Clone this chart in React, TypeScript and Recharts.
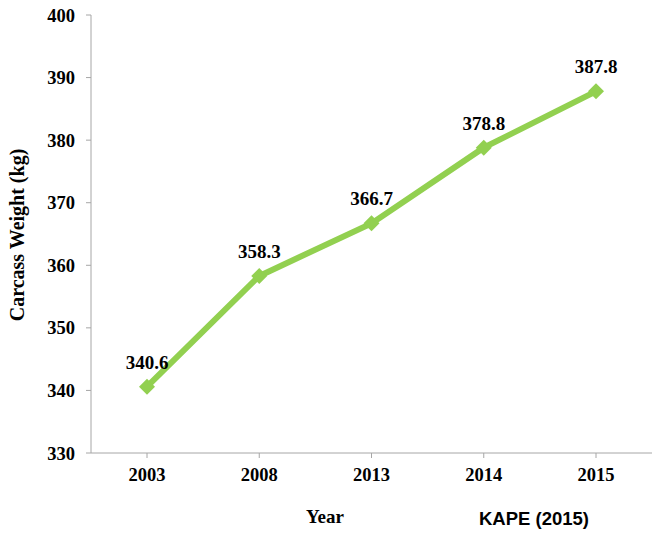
import React from 'react';
import { LineChart, Line, XAxis, YAxis, LabelList } from 'recharts';

const years = ['2003', '2008', '2013', '2014', '2015'];
const weights = [340.6, 358.3, 366.7, 378.8, 387.8];
const yTicks = [330, 340, 350, 360, 370, 380, 390, 400];

const data = years.map((y, i) => ({ year: y, weight: weights[i] }));

const GREEN = '#92D050';
const AXIS = '#A6A6A6';
const SERIF = '"Liberation Serif", "Times New Roman", serif';

const Diamond = (props: any) => {
  const { cx, cy } = props;
  if (cx == null || cy == null) return null;
  const r = 8;
  return (
    <polygon
      points={`${cx},${cy - r} ${cx + r},${cy} ${cx},${cy + r} ${cx - r},${cy}`}
      fill={GREEN}
      stroke="none"
    />
  );
};

export default function App() {
  return (
    <div style={{ position: 'absolute', left: 0, top: 0, width: 661, height: 538, background: '#fff' }}>
      <LineChart
        width={661}
        height={538}
        data={data}
        margin={{ top: 15, right: 9, bottom: 55, left: 0 }}
      >
        <XAxis
          dataKey="year"
          stroke={AXIS}
          height={30}
          padding={{ left: 56, right: 56 }}
          tickSize={5}
          tickMargin={10}
          tick={{ fill: '#000', fontFamily: SERIF, fontWeight: 'bold', fontSize: 18.5 }}
        />
        <YAxis
          width={91}
          domain={[330, 400]}
          ticks={yTicks}
          stroke={AXIS}
          tickSize={5}
          tickMargin={11}
          tick={{ fill: '#000', fontFamily: SERIF, fontWeight: 'bold', fontSize: 18.5 }}
        />
        <Line
          type="linear"
          dataKey="weight"
          stroke={GREEN}
          strokeWidth={6}
          dot={<Diamond />}
          activeDot={false}
          isAnimationActive={false}
        >
          <LabelList
            dataKey="weight"
            position="top"
            offset={18}
            formatter={(v: any) => Number(v).toFixed(1)}
            style={{ fill: '#000', fontFamily: SERIF, fontWeight: 'bold', fontSize: 19 }}
          />
        </Line>
      </LineChart>
      <div
        style={{
          position: 'absolute',
          left: 17,
          top: 235,
          transform: 'translate(-50%, -50%) rotate(-90deg)',
          whiteSpace: 'nowrap',
          fontFamily: SERIF,
          fontWeight: 'bold',
          fontSize: 20,
          color: '#000',
        }}
      >
        Carcass Weight (kg)
      </div>
      <div
        style={{
          position: 'absolute',
          left: 325,
          top: 517,
          transform: 'translate(-50%, -50%)',
          whiteSpace: 'nowrap',
          fontFamily: SERIF,
          fontWeight: 'bold',
          fontSize: 19,
          color: '#000',
        }}
      >
        Year
      </div>
      <div
        style={{
          position: 'absolute',
          left: 534,
          top: 519,
          transform: 'translate(-50%, -50%)',
          whiteSpace: 'nowrap',
          fontFamily: '"Liberation Sans", Arial, sans-serif',
          fontWeight: 'bold',
          fontSize: 18.5,
          color: '#000',
        }}
      >
        KAPE (2015)
      </div>
    </div>
  );
}
